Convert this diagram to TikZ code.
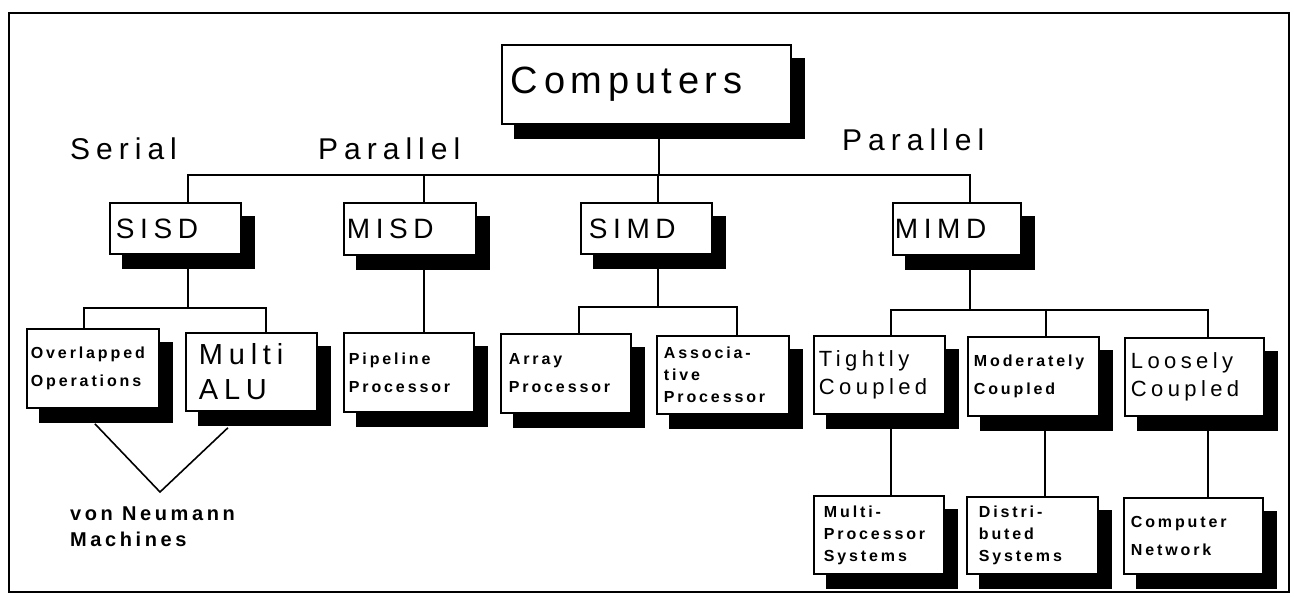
\documentclass[tikz,border=0pt]{standalone}
\usepackage{fontspec}
\setmainfont{Liberation Sans}
\newfontfamily\lsr{Liberation Sans}[LetterSpace=20]
\newfontfamily\lsc{Liberation Sans}[LetterSpace=15]
\newfontfamily\lsb{Liberation Sans}[LetterSpace=18]
\usetikzlibrary{shadows,backgrounds,calc}
\begin{document}
\begin{tikzpicture}[x=1pt,y=-1pt,
  box/.style={draw, line width=1.8pt, fill=white, anchor=north west, inner ysep=0pt, align=left,
     copy shadow={shadow xshift=13pt, shadow yshift=-14pt, fill=black, draw=black, line width=1.8pt}},
  big/.style={font=\lsr\fontsize{28}{30}\selectfont},
  mid/.style={font=\lsr\fontsize{22}{28}\selectfont},
  small/.style={font=\lsb\bfseries\fontsize{16}{28}\selectfont},
  tiny/.style={font=\lsb\bfseries\fontsize{16}{22}\selectfont},
  lbl/.style={anchor=base west, inner sep=0pt, font=\lsr\fontsize{30}{32}\selectfont},
  conn/.style={line width=1.6pt}]
\useasboundingbox (0,0) rectangle (1294,597);
\draw[line width=1.8pt] (9,13) rectangle (1289,592);

% top
\node[box, minimum width=289pt, minimum height=79pt, inner xsep=9pt, text width=271pt,
      font=\lsc\fontsize{38}{40}\selectfont] (comp) at (501,44) {Computers};

% second level
\node[box, big, minimum width=131pt, minimum height=51pt, inner xsep=6pt, text width=119pt] (sisd) at (109,202) {SISD};
\node[box, big, minimum width=132pt, minimum height=52pt, inner xsep=3pt, text width=126pt] (misd) at (343,202) {MISD};
\node[box, big, minimum width=131pt, minimum height=51pt, inner xsep=8pt, text width=115pt] (simd) at (580,202) {SIMD};
\node[box, big, minimum width=128pt, minimum height=52pt, inner xsep=2pt, text width=124pt] (mimd) at (892,202) {MIMD};

% third level
\node[box, small, minimum width=132pt, minimum height=79pt, inner xsep=4pt, text width=124pt] (over) at (26,328) {Overlapped\\Operations};
\node[box, font=\lsr\fontsize{29}{35}\selectfont, minimum width=131pt, minimum height=78pt, inner xsep=13pt, text width=105pt] (alu) at (185,332) {Multi\\ALU};
\node[box, small, minimum width=130pt, minimum height=79pt, inner xsep=5pt, text width=120pt] (pipe) at (343,332) {Pipeline\\Processor};
\node[box, small, minimum width=130pt, minimum height=79pt, inner xsep=8pt, text width=114pt] (array) at (500,333) {Array\\Processor};
\node[box, tiny, minimum width=132pt, minimum height=78pt, inner xsep=7pt, text width=118pt] (assoc) at (656,335) {Associa-\\tive\\Processor};
\node[box, mid, minimum width=131pt, minimum height=78pt, inner xsep=5pt, text width=121pt] (tight) at (813,335) {Tightly\\Coupled};
\node[box, small, minimum width=131pt, minimum height=79pt, inner xsep=6pt, text width=119pt] (mod) at (967,336) {Moderately\\Coupled};
\node[box, mid, minimum width=139pt, minimum height=78pt, inner xsep=6pt, text width=127pt] (loose) at (1124,337) {Loosely\\Coupled};

% fourth level
\node[box, tiny, minimum width=130pt, minimum height=78pt, inner xsep=10pt, text width=110pt] (mp) at (813,495) {Multi-\\Processor\\Systems};
\node[box, tiny, minimum width=131pt, minimum height=77pt, inner xsep=12pt, text width=107pt] (dist) at (966,496) {Distri-\\buted\\Systems};
\node[box, small, minimum width=139pt, minimum height=76pt, inner xsep=7pt, text width=125pt] (net) at (1123,497) {Computer\\Network};

% labels
\node[lbl] (serial) at (70,159) {Serial};
\node[lbl] (par1) at (318,159) {Parallel};
\node[lbl] (par2) at (842,150) {Parallel};
\node[anchor=north west, inner sep=0pt, align=left, font=\lsb\bfseries\fontsize{20}{26}\selectfont] (vn) at (70,507) {von Neumann\\Machines};
\coordinate (apex) at (160,492);

\begin{pgfonlayer}{background}
\draw[conn] ([xshift=12.5pt]comp.center) |- ([xshift=12.5pt,yshift=27pt]sisd.north) -- ([xshift=12.5pt]sisd.north);
\draw[conn] ([xshift=12.5pt]comp.center) |- ([xshift=14pt,yshift=27pt]misd.north) -- ([xshift=14pt]misd.north);
\draw[conn] ([xshift=12.5pt]comp.center) |- ([xshift=11.5pt,yshift=27pt]simd.north) -- ([xshift=11.5pt]simd.north);
\draw[conn] ([xshift=12.5pt]comp.center) |- ([xshift=13pt,yshift=27pt]mimd.north) -- ([xshift=13pt]mimd.north);

\draw[conn] ([xshift=12.5pt]sisd.center) |- ([xshift=-9pt,yshift=20pt]over.north) -- ([xshift=-9pt]over.north);
\draw[conn] ([xshift=12.5pt]sisd.center) |- ([xshift=14.5pt,yshift=24pt]alu.north) -- ([xshift=14.5pt]alu.north);

\draw[conn] ([xshift=14pt]misd.center) -- ([xshift=15pt]pipe.north);

\draw[conn] ([xshift=11.5pt]simd.center) |- ([xshift=13pt,yshift=26pt]array.north) -- ([xshift=13pt]array.north);
\draw[conn] ([xshift=11.5pt]simd.center) |- ([xshift=14pt,yshift=28pt]assoc.north) -- ([xshift=14pt]assoc.north);

\draw[conn] ([xshift=13pt]mimd.center) |- ([xshift=11.5pt,yshift=25pt]tight.north) -- ([xshift=11.5pt]tight.north);
\draw[conn] ([xshift=13pt]mimd.center) |- ([xshift=12.5pt,yshift=26pt]mod.north) -- ([xshift=12.5pt]mod.north);
\draw[conn] ([xshift=13pt]mimd.center) |- ([xshift=13.5pt,yshift=27pt]loose.north) -- ([xshift=13.5pt]loose.north);

\draw[conn] ([xshift=11.5pt]tight.center) -- ([xshift=12pt]mp.north);
\draw[conn] ([xshift=11.5pt]mod.center) -- ([xshift=12.5pt]dist.north);
\draw[conn] ([xshift=13.5pt]loose.center) -- ([xshift=14.5pt]net.north);

\draw[conn] ([xshift=2pt,yshift=-15pt]over.south) -- (apex) -- ([xshift=-23.5pt,yshift=-16pt]alu.south);
\end{pgfonlayer}
\end{tikzpicture}
\end{document}
